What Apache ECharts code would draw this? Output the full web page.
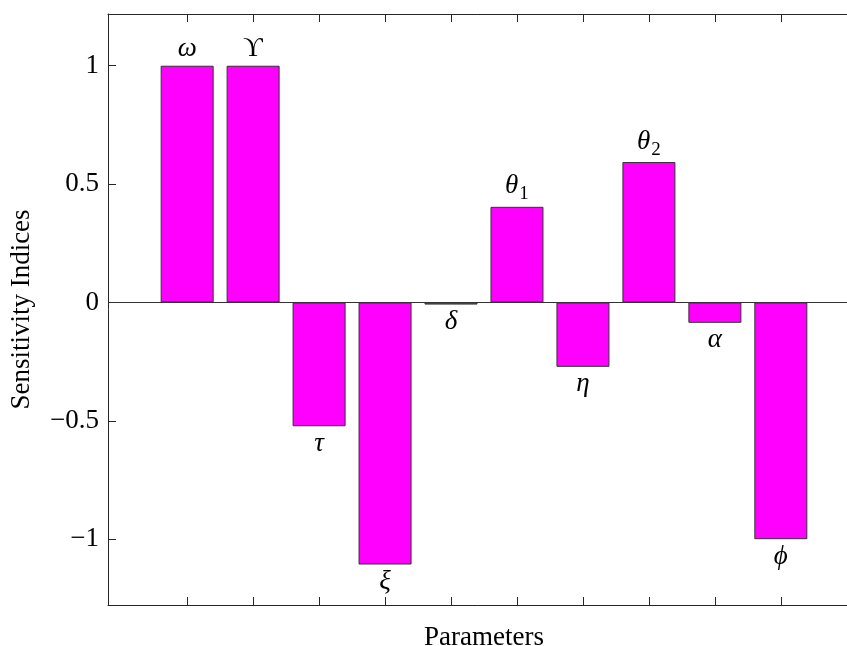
<!DOCTYPE html>
<html>
<head>
<meta charset="utf-8">
<script src="https://cdn.jsdelivr.net/npm/echarts@6/dist/echarts.min.js"></script>
<style>
  html, body { margin: 0; padding: 0; background: #fff; }
  #chart { width: 847px; height: 646px; }
</style>
</head>
<body>
<div id="chart"></div>
<script>
// Parameter symbols (rich-text markup), their bar positions and sensitivity indices
const paramLabels = ['{g|ω}', '{u|ϒ}', '{g|τ}', '{g|ξ}', '{g|δ}', '{g|θ}{s|1}', '{g|η}', '{g|θ}{s|2}', '{g|α}', '{g|ϕ}'];
const paramPositions = [1, 2, 3, 4, 5, 6, 7, 8, 9, 10];
const sensitivity = [1.0, 1.0, -0.523, -1.107, -0.009, 0.404, -0.272, 0.593, -0.086, -1.0];
const yTicks = [-1, -0.5, 0, 0.5, 1];
const yTickText = ['\u22121', '\u22120.5', '0', '0.5', '1'];

const serif = '"Liberation Serif", "DejaVu Serif", serif';
const ink = '#262626';

const barData = paramPositions.map((x, i) => {
  const v = sensitivity[i];
  return {
    value: [x, v],
    label: {
      show: true,
      position: v >= 0 ? 'top' : 'bottom',
      distance: v >= 0 ? 3 : 4,
      formatter: paramLabels[i],
      rich: {
        g: { fontFamily: serif, fontStyle: 'italic', fontSize: 27, color: '#000' },
        u: { fontFamily: serif, fontSize: 27, color: '#000' },
        s: { fontFamily: serif, fontSize: 19, color: '#000', padding: [16, 0, 0, 1] }
      }
    }
  };
});

const chart = echarts.init(document.getElementById('chart'), null, { renderer: 'canvas' });

const xCommon = {
  type: 'value',
  min: -0.2,
  max: 11.2,
  splitLine: { show: false },
  axisLine: { show: true, onZero: false, lineStyle: { color: ink, width: 1 } },
  axisTick: { show: true, inside: true, length: 8, customValues: paramPositions, lineStyle: { color: ink } },
  axisLabel: { show: false }
};

chart.setOption({
  animation: false,
  backgroundColor: '#fff',
  grid: { left: 108, top: 14, right: -13, bottom: 41, containLabel: false, outerBoundsMode: 'none' },
  xAxis: [
    Object.assign({}, xCommon, {
      position: 'bottom',
      name: 'Parameters',
      nameLocation: 'middle',
      nameGap: 19,
      nameTextStyle: { fontFamily: serif, fontSize: 27, color: '#000', verticalAlign: 'top' }
    }),
    Object.assign({}, xCommon, { position: 'top' })
  ],
  yAxis: {
    type: 'value',
    min: -1.278,
    max: 1.2185,
    splitLine: { show: false },
    axisLine: { show: true, onZero: false, lineStyle: { color: ink, width: 1 } },
    axisTick: { show: true, inside: true, length: 8, customValues: yTicks, lineStyle: { color: ink } },
    axisLabel: {
      show: true,
      customValues: yTicks,
      margin: 9,
      fontFamily: serif,
      fontSize: 27,
      color: '#000',
      formatter: v => yTickText[yTicks.indexOf(v)]
    },
    name: 'Sensitivity Indices',
    nameLocation: 'middle',
    nameGap: 73,
    nameTextStyle: { fontFamily: serif, fontSize: 27, color: '#000' }
  },
  series: [{
    type: 'bar',
    xAxisIndex: 0,
    barWidth: 53,
    data: barData,
    itemStyle: { color: '#ff00ff', borderColor: '#333', borderWidth: 1 },
    markLine: {
      silent: true,
      symbol: 'none',
      label: { show: false },
      lineStyle: { color: '#333', width: 1, type: 'solid' },
      data: [{ yAxis: 0 }]
    }
  }]
});
</script>
</body>
</html>
